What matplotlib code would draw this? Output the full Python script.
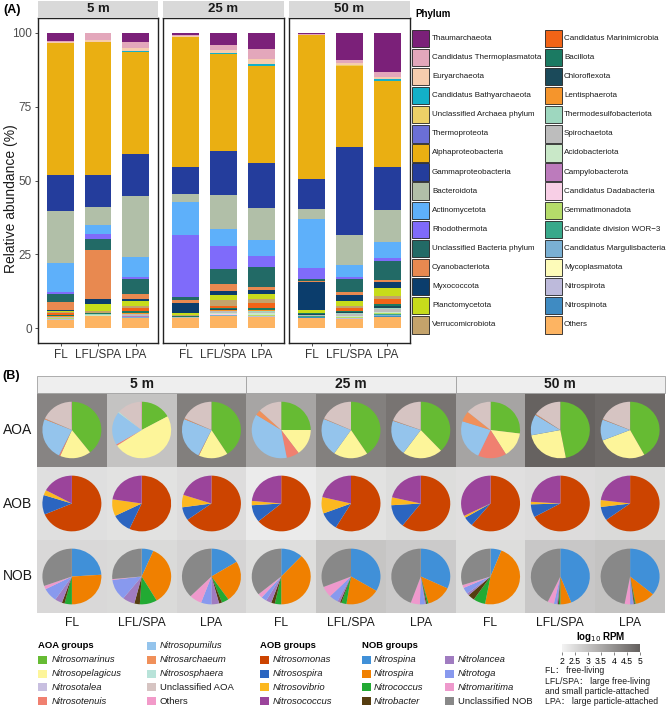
import matplotlib
matplotlib.use('Agg')
import matplotlib.pyplot as plt
from matplotlib import font_manager
from matplotlib.patches import Rectangle
from matplotlib.colors import LinearSegmentedColormap, Normalize
from matplotlib.cm import ScalarMappable
import numpy as np

# ---------------------------------------------------------------- fonts
installed = {f.name for f in font_manager.fontManager.ttflist}
BASE = 'Liberation Sans' if 'Liberation Sans' in installed else 'DejaVu Sans'
if 'Liberation Sans Narrow' in installed:
    NFAM = ['Liberation Sans Narrow', BASE, 'Noto Sans CJK SC']
    NS = 1.0
else:
    NFAM = [BASE, 'Noto Sans CJK SC']
    NS = 0.83
plt.rcParams['font.family'] = [BASE, 'DejaVu Sans']

# ---------------------------------------------------------------- data (A)
depths = ['5 m', '25 m', '50 m']
fractions = ['FL', 'LFL/SPA', 'LPA']

phyla = ['Thaumarchaeota', 'Candidatus Thermoplasmatota', 'Euryarchaeota',
         'Candidatus Bathyarchaeota', 'Unclassified Archaea phylum', 'Thermoproteota',
         'Alphaproteobacteria', 'Gammaproteobacteria', 'Bacteroidota', 'Actinomycetota',
         'Rhodothermota', 'Unclassified Bacteria phylum', 'Cyanobacteriota', 'Myxococcota',
         'Planctomycetota', 'Verrucomicrobiota', 'Candidatus Marinimicrobia', 'Bacillota',
         'Chloroflexota', 'Lentisphaerota', 'Thermodesulfobacteriota', 'Spirochaetota',
         'Acidobacteriota', 'Campylobacterota', 'Candidatus Dadabacteria', 'Gemmatimonadota',
         'Candidate division WOR\u22123', 'Candidatus Margulisbacteria', 'Mycoplasmatota',
         'Nitrospirota', 'Nitrospinota', 'Others']
phylum_colors = ['#7b2079', '#e3a7bb', '#f6ccae', '#13b0c8', '#ecd067', '#6b6fd5',
                 '#eaaf12', '#243d9c', '#b1bfa8', '#5eb0fa', '#7f6bfa', '#226a66',
                 '#e88950', '#0b3d6c', '#c7dc1b', '#c4a36b', '#f26417', '#1b7a62',
                 '#1b4a5a', '#f5952c', '#9ed7bf', '#bdbdbd', '#c9e8c8', '#bc7bbc',
                 '#f8cfe6', '#b5dc6a', '#38a88a', '#7ab0d3', '#fdfbb9', '#bdbadb',
                 '#3f8bc2', '#fdb462']

fl_5m = [2.8, 0.25, 0.3, 0.05, 0, 0, 44.8, 12.1, 17.7, 9.6, 0.8, 2.6, 2.8, 0.3, 0.5, 0.2,
         0.7, 0.3, 0.1, 0.3, 0.1, 0.3, 0.1, 0, 0, 0.1, 0.1, 0.1, 0, 0.1, 0.1, 2.8]
lfl_5m = [0.2, 2.4, 0.4, 0, 0, 0, 45.0, 10.8, 6.3, 3.1, 1.7, 3.6, 16.5, 1.9, 2.3, 0.7,
          0.1, 0.1, 0.1, 0.1, 0.1, 0.2, 0.1, 0, 0, 0, 0, 0, 0, 0, 0, 4.3]
lpa_5m = [3.2, 1.9, 1.1, 0.2, 0.1, 0, 34.4, 14.5, 20.6, 6.8, 0.5, 5.1, 1.7, 0.8, 1.6, 0.6,
          1.0, 0.7, 0.2, 0.1, 0.2, 0.5, 0.2, 0.1, 0, 0.1, 0.1, 0.1, 0, 0.1, 0.1, 3.4]
fl_25m = [0.6, 0.5, 0.4, 0, 0, 0, 43.8, 9.1, 2.9, 11.2, 20.9, 1.2, 0.8, 3.4, 0.8, 0.3,
          0.1, 0.1, 0.1, 0, 0.1, 0.2, 0.1, 0, 0, 0, 0, 0, 0, 0, 0, 3.4]
lfl_25m = [4.0, 1.9, 1.1, 0.2, 0.1, 0, 32.7, 15.0, 11.3, 5.8, 7.7, 5.3, 2.3, 1.2, 2.0, 1.8,
           0.7, 0.5, 0.3, 0.2, 0.2, 0.6, 0.3, 0.1, 0.1, 0.1, 0.1, 0.2, 0, 0.1, 0.1, 4.0]
lpa_25m = [5.6, 3.2, 1.9, 0.5, 0.1, 0, 32.9, 15.2, 10.8, 5.4, 3.8, 6.8, 0.8, 1.3, 1.8, 1.3,
           1.6, 0.7, 0.2, 0.3, 0.2, 0.6, 0.4, 0.1, 0.1, 0.1, 0.1, 0.2, 0, 0.1, 0.1, 3.8]
fl_50m = [0.5, 0.2, 0.1, 0, 0, 0, 48.6, 10.2, 3.3, 16.7, 3.6, 0.7, 0.4, 9.5, 0.9, 0.2,
          0.1, 0.3, 0.1, 0, 0.1, 0.3, 0.1, 0, 0, 0.1, 0.1, 0.1, 0, 0.1, 0.1, 3.6]
lfl_50m = [9.3, 0.9, 0.6, 0.2, 0.1, 0, 27.7, 29.5, 10.4, 4.0, 0.7, 4.5, 0.7, 2.3, 1.5, 0.6,
           1.1, 0.5, 0.2, 0.2, 0.2, 0.6, 0.3, 0.1, 0.1, 0.1, 0.1, 0.2, 0, 0.1, 0.1, 3.1]
lpa_50m = [13.2, 1.7, 0.9, 0.5, 0.1, 0, 28.9, 14.7, 10.7, 5.6, 1.0, 6.5, 0.7, 2.0, 2.6, 0.9,
           1.7, 0.7, 0.6, 0.3, 0.3, 0.8, 0.4, 0.1, 0.1, 0.2, 0.2, 0.3, 0.1, 0.1, 0.2, 3.9]
bar_data = {'5 m': [fl_5m, lfl_5m, lpa_5m],
            '25 m': [fl_25m, lfl_25m, lpa_25m],
            '50 m': [fl_50m, lfl_50m, lpa_50m]}

# ---------------------------------------------------------------- data (B)
aoa_groups = ['Nitrosomarinus', 'Nitrosopelagicus', 'Nitrosotalea', 'Nitrosotenuis',
              'Nitrosopumilus', 'Nitrosarchaeum', 'Nitrososphaera', 'Unclassified AOA', 'Others']
aoa_colors = ['#66bb33', '#fdf59a', '#c8bfe0', '#f08070', '#94c4ec', '#f0905a',
              '#b8e3d9', '#d6c4c2', '#f29ac9']
aob_groups = ['Nitrosomonas', 'Nitrosospira', 'Nitrosovibrio', 'Nitrosococcus']
aob_colors = ['#cc4400', '#2b65c0', '#fcb820', '#9b449b']
nob_groups = ['Nitrospina', 'Nitrospira', 'Nitrococcus', 'Nitrobacter', 'Nitrolancea',
              'Nitrotoga', 'Nitromaritima', 'Unclassified NOB']
nob_colors = ['#4090d8', '#f08000', '#22aa33', '#553d10', '#a07cc0', '#8899ee',
              '#ee99cc', '#888888']

# order of samples: 5m FL, LFL/SPA, LPA, 25m FL, LFL/SPA, LPA, 50m FL, LFL/SPA, LPA
aoa_pies = [[39.5, 17, 0, 0.7, 24, 0.5, 0, 18, 0.3],
            [17, 48.7, 0, 0.8, 19, 0, 0.6, 13.4, 0.5],
            [41, 16, 0, 0.3, 24, 0.5, 0, 18.2, 0],
            [25, 15, 0, 7, 37, 3, 0, 13, 0],
            [40.8, 18.8, 0, 0, 21.8, 0.3, 0, 18.3, 0],
            [38, 22, 0, 0, 20.3, 0.3, 0, 19.4, 0],
            [27, 14.3, 0, 15.6, 23.1, 6, 0, 14, 0],
            [47, 25, 0, 0, 12, 0.5, 0, 15.5, 0],
            [42, 27, 0, 0, 12, 0.3, 0, 18.7, 0]]
aob_pies = [[68.6, 11.3, 3, 17.1],
            [56.8, 10.9, 9.7, 22.6],
            [65.1, 7.7, 7.2, 20],
            [64, 10, 2.5, 23.5],
            [58.6, 10.6, 9.5, 21.3],
            [60.6, 13.4, 4.6, 21.4],
            [61, 5.5, 1.2, 32.3],
            [67, 7.5, 1.5, 24],
            [65, 8, 4, 23]]
nob_pies = [[24, 26, 4, 1.5, 4, 8, 2, 30.5],
            [6.5, 35, 9.5, 3, 6.7, 12.3, 0.5, 26.5],
            [16.2, 24.1, 3.9, 1.6, 4.2, 5.7, 6.8, 37.5],
            [12, 38, 3.5, 2, 3, 3, 2.5, 36],
            [33.6, 18.9, 2.8, 0.8, 1.4, 5, 6.4, 31.1],
            [32, 13.8, 0.8, 0.6, 0.6, 2.7, 5, 44.5],
            [6, 47, 6.6, 3.7, 1.3, 3.7, 1.7, 30],
            [44, 6, 0.8, 0.5, 0.7, 1.5, 3.5, 43],
            [36, 11, 0.5, 0.5, 0.5, 1.5, 3, 47]]
aoa_log_rpm = [4.26, 2.99, 4.37, 3.59, 4.35, 4.58, 3.61, 4.96, 4.81]
aob_log_rpm = [2.42, 2.36, 2.48, 2.17, 2.36, 2.46, 2.40, 2.48, 2.52]
nob_log_rpm = [2.55, 2.52, 2.63, 2.44, 2.94, 2.84, 2.46, 2.90, 2.99]
rpm_ticks = [2, 2.5, 3, 3.5, 4, 4.5, 5]

notes = ['FL\uff1a free-living', 'LFL/SPA\uff1a large free-living',
         'and small particle-attached', 'LPA\uff1a large particle-attached']

# ---------------------------------------------------------------- figure
W, H = 667, 709
fig = plt.figure(figsize=(W / 100, H / 100), dpi=100)
fig.patch.set_facecolor('white')


def px_axes(x0, y0, x1, y1, **kw):
    return fig.add_axes([x0 / W, 1 - y1 / H, (x1 - x0) / W, (y1 - y0) / H], **kw)


ov = fig.add_axes([0, 0, 1, 1], zorder=10)
ov.set_xlim(0, W)
ov.set_ylim(H, 0)
ov.axis('off')
ov.patch.set_alpha(0)

# ---------------------------------------------------------------- panel A
panel_x = [(38, 158), (163, 284), (289, 410)]
for i, (d, (x0, x1)) in enumerate(zip(depths, panel_x)):
    ax = px_axes(x0, 18, x1, 343)
    samples = bar_data[d]
    xpos = np.arange(1, len(fractions) + 1)
    bottom = np.zeros(len(fractions))
    for k in range(len(phyla) - 1, -1, -1):
        vals = np.array([s[k] for s in samples], dtype=float)
        ax.bar(xpos, vals, 0.7, bottom=bottom, color=phylum_colors[k], linewidth=0)
        bottom += vals
    ax.set_xlim(0.4, 3.6)
    ax.set_ylim(-5, 105)
    ax.set_xticks(xpos)
    ax.set_xticklabels(fractions, fontsize=8.5, color='#333333')
    ax.tick_params(axis='x', length=2.5, width=0.6, color='#333333', pad=2)
    if i == 0:
        ax.set_yticks([0, 25, 50, 75, 100])
        ax.set_yticklabels(['0', '25', '50', '75', '100'], fontsize=8.5, color='#4d4d4d')
        ax.tick_params(axis='y', length=2.5, width=0.6, color='#333333', pad=2)
    else:
        ax.set_yticks([])
    for s in ax.spines.values():
        s.set_linewidth(1.0)
        s.set_color('#222222')
    st = px_axes(x0, 1, x1, 18)
    st.set_facecolor('#d9d9d9')
    st.set_xticks([])
    st.set_yticks([])
    for s in st.spines.values():
        s.set_visible(False)
    st.text(0.5, 0.5, d, ha='center', va='center', fontsize=9.5, fontweight='bold',
            color='#1a1a1a', transform=st.transAxes)

ov.text(3, 10, '(A)', fontsize=9, fontweight='bold', ha='left', va='center')
ov.text(11, 199, 'Relative abundance (%)', rotation=90, ha='center', va='center',
        fontsize=10, color='#1a1a1a')

# legend of phyla
ov.text(415, 14, 'Phylum', fontsize=7, fontweight='bold', ha='left', va='center')
n_col = 16
for k, name in enumerate(phyla):
    col, row = divmod(k, n_col)
    kx = 412 if col == 0 else 545
    tx = 432 if col == 0 else 564
    cy = 38.3 + row * 19.1
    ov.add_patch(Rectangle((kx, cy - 8.7), 17, 17.4, facecolor=phylum_colors[k],
                           edgecolor='#222222', linewidth=0.6))
    ov.text(tx, cy, name, fontsize=5.8, ha='left', va='center', color='#1a1a1a')

# ---------------------------------------------------------------- panel B
cmap = LinearSegmentedColormap.from_list('rpm', ['#f3f3f3', '#64605e'])
norm = Normalize(2, 5)

bx0, bx1 = 37, 665
col_w = (bx1 - bx0) / 9
row_edges = [393, 467, 540, 613]
rows = [('AOA', aoa_pies, aoa_colors, aoa_log_rpm),
        ('AOB', aob_pies, aob_colors, aob_log_rpm),
        ('NOB', nob_pies, nob_colors, nob_log_rpm)]

# strip
sec_w = (bx1 - bx0) / 3
for i, d in enumerate(depths):
    sx0 = bx0 + i * sec_w
    ov.add_patch(Rectangle((sx0, 376), sec_w, 17, facecolor='#eeeeee',
                           edgecolor='#a0a0a0', linewidth=0.6))
    ov.text(sx0 + sec_w / 2, 384.5, d, ha='center', va='center', fontsize=10,
            fontweight='bold', color='#1a1a1a')
ov.text(2, 375.5, '(B)', fontsize=9, fontweight='bold', ha='left', va='center')

for r, (label, pies, colors, rpm) in enumerate(rows):
    y0, y1 = row_edges[r], row_edges[r + 1]
    for j in range(9):
        x0 = bx0 + j * col_w
        ax = px_axes(x0, y0, x0 + col_w, y1)
        ax.pie(pies[j], colors=colors, startangle=90, counterclock=False, radius=1,
               wedgeprops={'linewidth': 0})
        ax.set_aspect('auto')
        ax.set_frame_on(True)
        ax.set_facecolor(cmap(norm(rpm[j])))
        for s in ax.spines.values():
            s.set_visible(False)
        ax.set_xticks([])
        ax.set_yticks([])
        ax.set_xlim(-1.183, 1.183)
        ax.set_ylim(-1.31, 1.31)
    ov.text(17.5, (y0 + y1) / 2, label, ha='center', va='center', fontsize=10,
            color='#1a1a1a')

for j in range(9):
    ov.text(bx0 + (j + 0.5) * col_w, 622.5, fractions[j % 3], ha='center', va='center',
            fontsize=10.5 * NS, family=NFAM, color='#1a1a1a')

# bottom legend
row_y = [646, 660, 673.5, 687, 701]
leg_fs = 8.2 * NS


def leg_entry(kx, tx, y, name, color, italic=True):
    ov.add_patch(Rectangle((kx, y - 4), 8.5, 8, facecolor=color, edgecolor='none'))
    ov.text(tx, y, name, ha='left', va='center', fontsize=leg_fs, family=NFAM,
            style='italic' if italic else 'normal', color='#1a1a1a')


def is_genus(name):
    return not (name.startswith('Unclassified') or name == 'Others')


ov.text(38, row_y[0], 'AOA groups', ha='left', va='center', fontsize=leg_fs,
        fontweight='bold', family=NFAM)
for i, (name, c) in enumerate(zip(aoa_groups, aoa_colors)):
    if i < 4:
        leg_entry(38, 52, row_y[i + 1], name, c, is_genus(name))
    else:
        leg_entry(147, 160, row_y[i - 4], name, c, is_genus(name))

ov.text(260, row_y[0], 'AOB groups', ha='left', va='center', fontsize=leg_fs,
        fontweight='bold', family=NFAM)
for i, (name, c) in enumerate(zip(aob_groups, aob_colors)):
    leg_entry(260, 273, row_y[i + 1], name, c, is_genus(name))

ov.text(362, row_y[0], 'NOB groups', ha='left', va='center', fontsize=leg_fs,
        fontweight='bold', family=NFAM)
for i, (name, c) in enumerate(zip(nob_groups, nob_colors)):
    if i < 4:
        leg_entry(362, 374, row_y[i + 1], name, c, is_genus(name))
    else:
        leg_entry(445, 458, row_y[i - 3], name, c, is_genus(name))

# colorbar
cax = px_axes(562, 644, 640, 652)
cb = fig.colorbar(ScalarMappable(norm=norm, cmap=cmap), cax=cax, orientation='horizontal',
                  ticks=rpm_ticks)
cb.outline.set_visible(False)
cb.ax.set_xticklabels([f'{t:g}' for t in rpm_ticks], fontsize=7.5 * NS, family=NFAM)
cb.ax.tick_params(length=2.5, width=0.5, color='#555555', pad=1)
ov.text(601, 636.5, r'log$_{10}$ RPM', ha='center', va='center', fontsize=8.5 * NS,
        fontweight='bold', family=NFAM)

for t, y in zip(notes, [670.5, 681, 691, 701.5]):
    ov.text(545, y, t, ha='left', va='center', fontsize=7.5 * NS, family=NFAM,
            color='#1a1a1a')

fig.savefig('out.png', dpi=100, facecolor='white')
